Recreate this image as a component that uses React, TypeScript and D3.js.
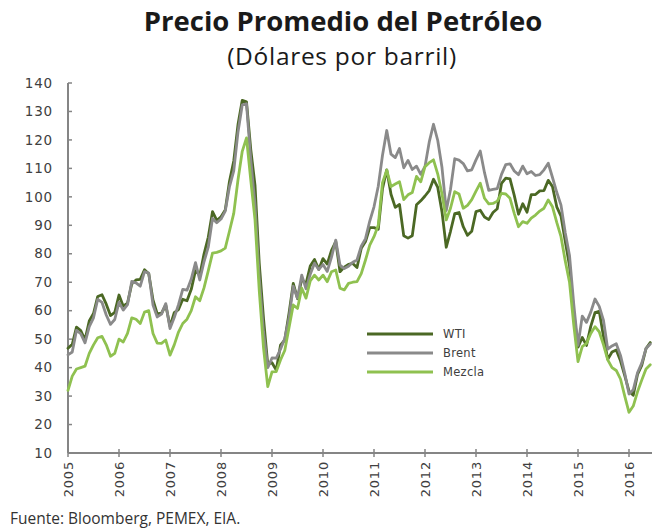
import React from 'react';
import * as d3 from 'd3';

// Monthly averages, Jan 2005 – Jun 2016 (USD per barrel)
const wti: number[] = [
  46.8, 48.2, 54.2, 53.0, 49.8, 56.4, 59.0, 65.0, 65.6, 62.3, 58.3, 59.4,
  65.5, 61.6, 62.7, 69.4, 70.8, 71.0, 74.4, 73.0, 63.8, 58.9, 59.1, 62.0,
  54.5, 59.3, 60.4, 64.0, 63.5, 67.5, 74.1, 72.4, 79.9, 85.8, 94.8, 91.7,
  93.0, 95.4, 105.5, 112.6, 125.4, 133.9, 133.4, 116.7, 104.1, 76.6, 57.3, 41.1,
  41.7, 39.1, 47.9, 49.7, 59.0, 69.6, 64.2, 71.1, 69.4, 75.7, 78.0, 74.5,
  78.3, 76.4, 81.2, 84.3, 73.7, 75.3, 76.3, 76.6, 75.2, 81.9, 84.3, 89.2,
  89.2, 88.6, 102.9, 109.5, 100.9, 96.3, 97.3, 86.3, 85.5, 86.3, 97.2, 98.6,
  100.3, 102.2, 106.2, 103.3, 94.7, 82.3, 87.9, 94.1, 94.5, 89.5, 86.5, 87.9,
  94.8, 95.3, 92.9, 92.0, 94.5, 95.8, 104.7, 106.6, 106.3, 100.5, 93.9, 97.6,
  94.6, 100.8, 100.8, 102.1, 102.2, 105.8, 103.6, 96.5, 93.2, 84.4, 75.8, 59.3,
  47.2, 50.6, 47.8, 54.5, 59.3, 59.8, 50.9, 42.9, 45.5, 46.2, 42.4, 37.2,
  31.7, 30.3, 37.6, 40.8, 46.7, 48.8,
];

const brent: number[] = [
  44.5, 45.5, 53.1, 51.9, 48.7, 54.4, 57.5, 64.0, 62.9, 58.5, 55.2, 56.9,
  63.0, 60.2, 62.1, 70.3, 69.8, 68.6, 73.7, 73.2, 62.0, 57.8, 58.8, 62.5,
  53.7, 57.6, 62.1, 67.5, 67.2, 71.1, 76.9, 70.8, 77.2, 82.3, 92.4, 90.9,
  92.2, 95.0, 103.6, 109.1, 122.8, 132.3, 132.7, 113.2, 97.2, 71.6, 52.5, 40.0,
  43.4, 43.3, 46.5, 50.2, 57.3, 68.6, 64.4, 72.5, 67.7, 72.8, 76.7, 74.5,
  76.2, 73.8, 78.8, 84.8, 76.0, 74.8, 75.6, 77.0, 77.8, 82.7, 85.3, 91.5,
  96.5, 103.7, 114.6, 123.3, 115.0, 113.8, 117.0, 110.2, 112.8, 109.6, 110.8, 107.9,
  110.7, 119.3, 125.5, 119.8, 110.3, 95.2, 102.6, 113.4, 112.9, 111.7, 109.1, 109.5,
  113.0, 116.1, 108.5, 102.3, 102.6, 102.9, 107.9, 111.3, 111.6, 109.1, 107.8, 110.8,
  108.1, 108.9, 107.5, 107.8, 109.5, 111.8, 106.8, 101.6, 97.1, 87.4, 79.4, 62.3,
  47.8, 58.1, 55.9, 59.5, 64.1, 61.5, 56.6, 46.5, 47.6, 48.4, 44.3, 38.0,
  30.7, 32.2, 38.2, 41.6, 46.7, 48.3,
];

const mezcla: number[] = [
  32.0, 37.0, 39.5, 40.0, 40.5, 45.0, 48.0, 50.5, 51.0, 48.0, 44.0, 45.0,
  50.0, 49.0, 52.0, 57.5, 57.0, 55.5, 59.5, 60.0, 52.0, 48.6, 48.5, 49.7,
  44.4, 48.0, 52.5, 55.5, 57.0, 60.0, 64.9, 63.5, 68.0, 74.0, 80.2, 80.5,
  81.0, 82.0, 88.0, 94.2, 106.0, 116.0, 120.7, 106.0, 92.0, 67.0, 47.0, 33.3,
  38.5, 38.6, 42.7, 46.0, 54.0, 62.0, 60.8, 67.9, 64.4, 70.5, 72.5, 70.8,
  72.5, 70.2, 73.7, 74.3, 67.9, 67.3, 69.6, 70.0, 70.2, 73.0, 77.8, 83.0,
  86.0, 90.0, 105.0, 109.4, 103.6, 104.5, 105.3, 99.0, 100.7, 101.5, 107.2, 105.3,
  110.6, 112.0, 113.0, 108.0, 101.0, 91.9, 96.0, 101.8, 101.0, 96.0, 97.0, 99.0,
  102.0, 104.8, 99.5, 97.5, 97.7, 98.5, 101.2, 101.0, 99.5, 94.2, 89.5, 91.3,
  90.7, 92.5, 93.6, 95.0, 96.0, 98.9, 96.5, 91.0, 86.0, 77.5, 70.0, 55.0,
  42.1, 47.4, 48.5, 52.0, 54.4, 52.6, 48.0, 42.7, 40.0, 39.0, 36.0, 30.0,
  24.3, 26.5, 31.5, 35.6, 39.5, 41.0,
];

const yearLabels: string[] = ['2005', '2006', '2007', '2008', '2009', '2010', '2011', '2012', '2013', '2014', '2015', '2016'];
const yTickValues: number[] = [10, 20, 30, 40, 50, 60, 70, 80, 90, 100, 110, 120, 130, 140];

const seriesNames: string[] = ['WTI', 'Brent', 'Mezcla'];
const seriesColors: string[] = ['#4b6824', '#8a8a8a', '#8fc150'];

const W = 652;
const H = 529;
const X0 = 68;
const PER_YEAR = 51;
const Y_BOTTOM = 453;
const Y_TOP = 83;

export default function App() {
  const x = d3.scaleLinear().domain([0, 12]).range([X0, X0 + PER_YEAR]);
  const y = d3.scaleLinear().domain([10, 140]).range([Y_BOTTOM, Y_TOP]);
  const line = d3
    .line<number>()
    .x((_, i) => x(i))
    .y((d) => y(d));

  const data = [wti, brent, mezcla];
  const axisColor = '#858585';
  const textColor = '#404040';
  const tickFont = 'DejaVu Sans, sans-serif';

  return (
    <svg
      width={W}
      height={H}
      style={{ position: 'absolute', left: 0, top: 0, background: '#fff' }}
    >
      <text
        x={343}
        y={31}
        textAnchor="middle"
        fontFamily="Open Sans, sans-serif"
        fontWeight="bold"
        fontSize={27.5}
        fill="#1a1a1a"
      >
        Precio Promedio del Petróleo
      </text>
      <text
        x={342}
        y={65}
        textAnchor="middle"
        fontFamily="Open Sans, sans-serif"
        fontSize={24.5}
        letterSpacing={0.7}
        fill="#1a1a1a"
      >
        (Dólares por barril)
      </text>

      {/* Y axis */}
      <line x1={X0} x2={X0} y1={Y_TOP} y2={Y_BOTTOM} stroke={axisColor} strokeWidth={2} />
      {yTickValues.map((v) => (
        <g key={v}>
          <line x1={X0} x2={X0 + 4} y1={y(v)} y2={y(v)} stroke={axisColor} strokeWidth={1.5} />
          <text
            x={53}
            y={y(v)}
            dy="0.35em"
            textAnchor="end"
            fontFamily={tickFont}
            fontSize={13.5}
            letterSpacing={0.8}
            fill={textColor}
          >
            {v}
          </text>
        </g>
      ))}

      {/* X axis */}
      <line x1={X0} x2={W} y1={Y_BOTTOM} y2={Y_BOTTOM} stroke={axisColor} strokeWidth={2} />
      {yearLabels.map((lab, k) => {
        const px = x(k * 12);
        return (
          <g key={lab}>
            <line x1={px} x2={px} y1={Y_BOTTOM - 4} y2={Y_BOTTOM + 4} stroke={axisColor} strokeWidth={1.5} />
            <text
              transform={`translate(${px},${Y_BOTTOM + 8}) rotate(-90)`}
              dy="0.35em"
              textAnchor="end"
              fontFamily={tickFont}
              fontSize={13}
              letterSpacing={0.8}
              fill={textColor}
            >
              {lab}
            </text>
          </g>
        );
      })}

      {/* Series */}
      {data.map((s, k) => (
        <path
          key={seriesNames[k]}
          d={line(s) || ''}
          fill="none"
          stroke={seriesColors[k]}
          strokeWidth={2.8}
          strokeLinejoin="round"
          strokeLinecap="round"
        />
      ))}

      {/* Legend */}
      {seriesNames.map((n, k) => {
        const ly = 334 + k * 19;
        return (
          <g key={n}>
            <line x1={367} x2={433} y1={ly} y2={ly} stroke={seriesColors[k]} strokeWidth={3} />
            <text
              x={443}
              y={ly}
              dy="0.35em"
              fontFamily={tickFont}
              fontSize={11.5}
              letterSpacing={0.3}
              fill={textColor}
            >
              {n}
            </text>
          </g>
        );
      })}

      <text
        x={10}
        y={524}
        fontFamily="Open Sans, sans-serif"
        fontSize={15.5}
        fill="#333"
      >
        Fuente: Bloomberg, PEMEX, EIA.
      </text>
    </svg>
  );
}
